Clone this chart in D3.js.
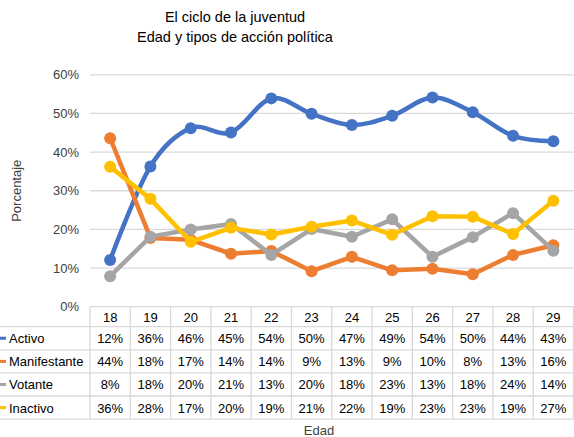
<!DOCTYPE html>
<html><head><meta charset="utf-8">
<script src="https://cdn.jsdelivr.net/npm/d3@7"></script>
<style>
html,body{margin:0;padding:0;background:#fff;}
text{font-family:"Liberation Sans",Arial,sans-serif;fill:#404040;}
</style></head>
<body>
<svg id="c" width="574" height="437"></svg>
<script>
const categories = ["18","19","20","21","22","23","24","25","26","27","28","29"];
const seriesNames = ["Activo","Manifestante","Votante","Inactivo"];
const activo = [0.121,0.363,0.462,0.451,0.539,0.499,0.470,0.494,0.541,0.503,0.442,0.428];
const manifestante = [0.436,0.178,0.173,0.137,0.144,0.092,0.129,0.094,0.098,0.084,0.134,0.159];
const votante = [0.079,0.181,0.200,0.214,0.134,0.201,0.181,0.226,0.129,0.180,0.242,0.145];
const inactivo = [0.362,0.279,0.168,0.204,0.187,0.207,0.223,0.186,0.234,0.233,0.188,0.274];
const yTicks = [0,0.1,0.2,0.3,0.4,0.5,0.6];
const colors = ["#4472C4","#ED7D31","#A5A5A5","#FFC000"];
const title1 = "El ciclo de la juventud";
const title2 = "Edad y tipos de acción política";

(function(){
const series = [activo, manifestante, votante, inactivo];
const svg = d3.select("#c");
const pLeft = 90, pRight = 573.5, pTop = 74.8, pBottom = 306.7;

const x = d3.scaleBand().domain(categories).range([pLeft, pRight]);
const y = d3.scaleLinear().domain([0, 0.6]).range([pBottom, pTop]);
const fmt = d3.format(".0%");

svg.append("text").attr("x",235).attr("y",22).attr("text-anchor","middle")
  .style("font-size","14.5px").style("fill","#000").text(title1);
svg.append("text").attr("x",235).attr("y",42).attr("text-anchor","middle")
  .style("font-size","14.5px").style("fill","#000").text(title2);

const grid = svg.append("g");
grid.selectAll("line").data(yTicks.filter(d=>d>0)).join("line")
  .attr("x1",pLeft).attr("x2",pRight)
  .attr("y1",d=>y(d)).attr("y2",d=>y(d))
  .attr("stroke","#d9d9d9").attr("stroke-width",1.3);

const yAxis = d3.axisLeft(y).tickValues(yTicks).tickFormat(fmt).tickSize(0).tickPadding(11);
const ya = svg.append("g").attr("transform",`translate(${pLeft},0)`).call(yAxis);
ya.select(".domain").remove();
ya.selectAll("text").style("font-size","13px").style("fill","#404040")
  .style("font-family","Liberation Sans, Arial, sans-serif");

svg.append("text").attr("transform",`translate(21,${(pTop+pBottom)/2}) rotate(-90)`)
  .attr("text-anchor","middle").style("font-size","13px").text("Porcentaje");

const rowH = 23.1;
const headerBottom = 326.7;
const tableBottom = headerBottom + rowH*4;
const tg = svg.append("g");
const bcol = "#d9d9d9";
tg.append("line").attr("x1",pLeft).attr("x2",pRight).attr("y1",pBottom).attr("y2",pBottom)
  .attr("stroke",bcol).attr("stroke-width",1.3);
for (let i=0;i<=4;i++){
  tg.append("line").attr("x1",0).attr("x2",pRight)
    .attr("y1",headerBottom+i*rowH).attr("y2",headerBottom+i*rowH)
    .attr("stroke",bcol).attr("stroke-width",1.3);
}
const vx = categories.map(c=>x(c)).concat([pRight]);
tg.selectAll(".v").data(vx).join("line")
  .attr("x1",d=>d).attr("x2",d=>d).attr("y1",pBottom).attr("y2",tableBottom)
  .attr("stroke",bcol).attr("stroke-width",1.3);
tg.selectAll(".hl").data(categories).join("text")
  .attr("x",d=>x(d)+x.bandwidth()/2).attr("y",pBottom+15)
  .attr("text-anchor","middle").style("font-size","13px").style("fill","#000").text(d=>d);
seriesNames.forEach((name,si)=>{
  const cy = headerBottom + rowH*si + rowH/2;
  tg.append("line").attr("x1",0).attr("x2",6).attr("y1",cy).attr("y2",cy)
    .attr("stroke",colors[si]).attr("stroke-width",3);
  tg.append("text").attr("x",9).attr("y",cy+5).style("font-size","13px").style("fill","#000").text(name);
  tg.selectAll(".r"+si).data(series[si]).join("text")
    .attr("x",(d,i)=>x(categories[i])+x.bandwidth()/2).attr("y",cy+5)
    .attr("text-anchor","middle").style("font-size","13px").style("fill","#000")
    .text(d=>fmt(d));
});

svg.append("text").attr("x",319).attr("y",435).attr("text-anchor","middle")
  .style("font-size","13px").text("Edad");

const cx = (d,i)=>x(categories[i])+x.bandwidth()/2;
series.forEach((vals,si)=>{
  const line = d3.line().x(cx).y(d=>y(d))
    .curve(si===0 ? d3.curveCardinal.tension(0) : d3.curveLinear);
  svg.append("path").datum(vals).attr("d",line).attr("fill","none")
    .attr("stroke",colors[si]).attr("stroke-width",4.5).attr("stroke-linejoin","round").attr("stroke-linecap","round");
  svg.append("g").selectAll("circle").data(vals).join("circle")
    .attr("cx",cx).attr("cy",d=>y(d)).attr("r",6).attr("fill",colors[si]);
});
})();
</script>
</body></html>
